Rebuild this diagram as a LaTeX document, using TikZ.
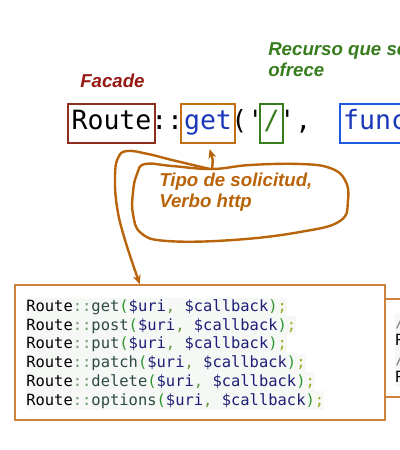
\documentclass[tikz,border=0pt]{standalone}
\usepackage{fontspec}
\setmainfont{Liberation Sans}
\setmonofont{DejaVu Sans Mono}
\usetikzlibrary{calc, arrows.meta}

\definecolor{facadered}{RGB}{150,25,20}
\definecolor{routebrown}{RGB}{140,45,30}
\definecolor{getorange}{RGB}{195,110,20}
\definecolor{handorange}{RGB}{185,100,10}
\definecolor{boxorange}{RGB}{205,130,60}
\definecolor{urigreen}{RGB}{55,125,30}
\definecolor{funcblue}{RGB}{30,90,220}
\definecolor{kwblue}{RGB}{25,55,185}
\definecolor{codebg}{RGB}{246,248,246}
\definecolor{ccolon}{RGB}{110,155,110}
\definecolor{cmethod}{RGB}{45,75,65}
\definecolor{cparen}{RGB}{45,150,45}
\definecolor{cvar}{RGB}{30,30,120}
\definecolor{ccomma}{RGB}{100,150,60}
\definecolor{csemi}{RGB}{160,170,30}

\newcommand{\bigmono}{\ttfamily\fontsize{19.9}{24}\selectfont}
\newcommand{\codefont}{\ttfamily\fontsize{11.6}{14}\selectfont}
\newcommand{\notefont}{\bfseries\itshape\fontsize{14}{15.75}\selectfont}
\newcommand{\codeline}[1]{Route\textcolor{ccolon}{::}\textcolor{cmethod}{#1}\textcolor{cparen}{(}\textcolor{cvar}{\$uri}\textcolor{ccomma}{,} \textcolor{cvar}{\$callback}\textcolor{cparen}{)}\textcolor{csemi}{;}}

\begin{document}
\begin{tikzpicture}[x=0.75pt, y=-0.75pt,
    tok/.style={anchor=base west, inner sep=0, font=\bigmono},
    wordbox/.style={draw, line width=1.5pt, minimum height=29.25pt, text height=14pt, text depth=5.75pt, inner sep=0, font=\bigmono},
    note/.style={inner sep=0, font=\notefont},
    codeln/.style={anchor=base west, inner sep=0, fill=codebg, text height=10.5pt, text depth=3.5pt, font=\codefont},
    hand/.style={draw=handorange, line width=1.8pt, line cap=round, line join=round}]

        \useasboundingbox (0,0) rectangle (400,450);
        \fill[white] (0,0) rectangle (400,450);
        \clip (0,0) rectangle (400,450);

        % Etiquetas
        \node[note, text=facadered, anchor=base west] (facade) at (80,87) {Facade};
        \node[note, text=urigreen, anchor=north west, align=left] (recurso) at (268,42) {Recurso que se\\ofrece};

        % Linea principal: Route::get('/', function
        \node[wordbox, draw=routebrown, minimum width=65.25pt] (route) at (111.5,123.5) {Route};
        \node[tok] (colons) at (151,129) {::};
        \node[wordbox, draw=getorange, minimum width=40.5pt, text=kwblue] (get) at (208,123.5) {get};
        \node[tok] (paren) at (231,129) {(};
        \node[tok] (quoteA) at (247,129) {'};
        \node[wordbox, draw=urigreen, minimum width=17.25pt, text=urigreen] (uri) at (271.5,123.5) {/};
        \node[tok] (quoteB) at (279,129) {'};
        \node[tok] (comma) at (295,129) {,};
        \node[wordbox, draw=funcblue, minimum width=100.5pt, text=kwblue] (func) at (407,123.5) {function};

        % Nota a mano
        \node[note, text=handorange, anchor=north west, align=left] (tipo) at (159,173) {Tipo de solicitud,\\Verbo http};

        % Caja del codigo
        \node[draw=boxorange, line width=1.1pt, minimum width=277.5pt, minimum height=101.25pt, inner sep=0] (codebox) at (200,352.5) {};
        \foreach \m [count=\i from 0] in {get,post,put,patch,delete,options}
            \node[codeln] (line\i) at (26,{311.5+18.7*\i}) {\codeline{\m}};

        % Caja siguiente (cortada)
        \node[draw=boxorange, line width=1.1pt, minimum width=116.25pt, minimum height=73.5pt, inner sep=0] (nextbox) at (462.5,348) {};
        \node[codeln, text=gray] (nextA) at (395,327) {//};
        \node[codeln] (nextB) at (395,345.5) {Route};
        \node[codeln, text=gray] (nextC) at (395,364) {//};
        \node[codeln] (nextD) at (395,382.5) {Route};

        % Lazo alrededor de la nota
        \draw[hand] plot [smooth cycle, tension=0.7] coordinates {
            (212,169) (172,166) (145,164) (137,174) (133,192) (133,214)
            (141,233) (167,241) (233,240) (300,232) (340,221) (348,200)
            (345,180) (330,168) (300,164) (250,165)
        };
        % Flecha hacia get
        \draw[hand, -{Stealth[length=7pt,width=6pt]}, shorten >=4pt] (212,169) .. controls (213,160) .. (get.south);

        % Flecha hacia la caja del codigo
        \coordinate (entry) at ($(codebox.north west)!0.338!(codebox.north east)$);
        \draw[hand, -{Stealth[length=7pt,width=6pt]}] plot [smooth, tension=0.7] coordinates {
            (210,169) (172,160) (148,154) (127,151) (118,158) (115,176)
            (117,207) (125,240) (entry)
        };

\end{tikzpicture}
\end{document}
